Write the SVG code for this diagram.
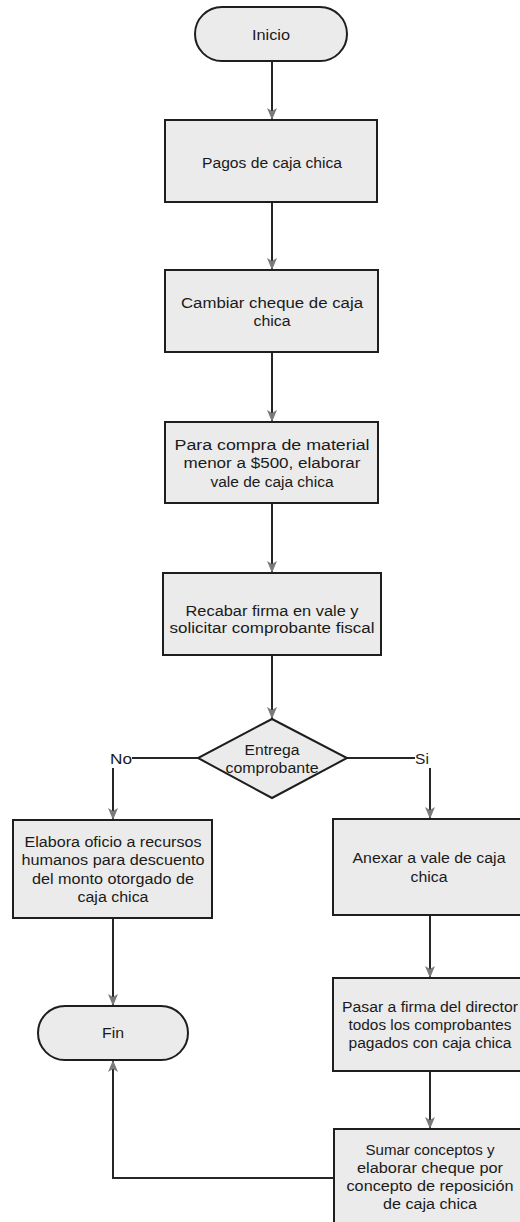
<svg xmlns="http://www.w3.org/2000/svg" width="520" height="1222" viewBox="0 0 520 1222">
<style>
.box{fill:#ebebeb;stroke:#1e1e1e;stroke-width:2}
.t{font-family:"Liberation Sans",Arial,sans-serif;font-size:15.5px;fill:#1a1a1a;text-anchor:middle}
.c{fill:none;stroke:#262626;stroke-width:2}
</style>
<defs>
<marker id="ah" viewBox="0 0 12 10" refX="12" refY="5" markerWidth="12" markerHeight="10" markerUnits="userSpaceOnUse" orient="auto">
<path d="M0,0 L12,5 L0,10 L3,5 Z" fill="#7a7a7a"/>
</marker>
</defs>
<rect width="520" height="1222" fill="#ffffff"/>
<g id="connectors">
<line class="c" x1="272" y1="61" x2="272" y2="120" marker-end="url(#ah)"/>
<line class="c" x1="272" y1="202" x2="272" y2="270" marker-end="url(#ah)"/>
<line class="c" x1="272" y1="352" x2="272" y2="422" marker-end="url(#ah)"/>
<line class="c" x1="272" y1="503" x2="272" y2="573" marker-end="url(#ah)"/>
<line class="c" x1="272" y1="655" x2="272" y2="719" marker-end="url(#ah)"/>
<line class="c" x1="198" y1="758" x2="132" y2="758"/>
<line class="c" x1="113" y1="768" x2="113" y2="820" marker-end="url(#ah)"/>
<line class="c" x1="347" y1="758" x2="415" y2="758"/>
<line class="c" x1="430" y1="768" x2="430" y2="819" marker-end="url(#ah)"/>
<line class="c" x1="113" y1="918" x2="113" y2="1006" marker-end="url(#ah)"/>
<line class="c" x1="430" y1="915" x2="430" y2="978" marker-end="url(#ah)"/>
<line class="c" x1="430" y1="1071" x2="430" y2="1129" marker-end="url(#ah)"/>
<polyline class="c" points="334,1178 113,1178 113,1060" marker-end="url(#ah)"/>
<text class="t" x="121" y="764" textLength="22" lengthAdjust="spacingAndGlyphs">No</text>
<text class="t" x="422" y="764">Si</text>
</g>
<g id="inicio">
<rect class="box" x="195" y="7" width="152" height="54" rx="27"/>
<text class="t" x="271" y="40" textLength="38" lengthAdjust="spacingAndGlyphs">Inicio</text>
</g>
<g id="pagos">
<rect class="box" x="165" y="120" width="212" height="82"/>
<text class="t" x="272" y="168" textLength="140" lengthAdjust="spacingAndGlyphs">Pagos de caja chica</text>
</g>
<g id="cambiar">
<rect class="box" x="165" y="270" width="213" height="82"/>
<text class="t" x="272" y="308" textLength="182" lengthAdjust="spacingAndGlyphs">Cambiar cheque de caja</text>
<text class="t" x="272" y="326" textLength="37" lengthAdjust="spacingAndGlyphs">chica</text>
</g>
<g id="para">
<rect class="box" x="165" y="422" width="213" height="81"/>
<text class="t" x="272" y="450" textLength="195" lengthAdjust="spacingAndGlyphs">Para compra de material</text>
<text class="t" x="272" y="468" textLength="177" lengthAdjust="spacingAndGlyphs">menor a $500, elaborar</text>
<text class="t" x="272" y="487" textLength="123" lengthAdjust="spacingAndGlyphs">vale de caja chica</text>
</g>
<g id="recabar">
<rect class="box" x="163" y="573" width="218" height="82"/>
<text class="t" x="272" y="616" textLength="173" lengthAdjust="spacingAndGlyphs">Recabar firma en vale y</text>
<text class="t" x="272" y="633" textLength="205" lengthAdjust="spacingAndGlyphs">solicitar comprobante fiscal</text>
</g>
<g id="decision">
<polygon class="box" points="272,719 347,758 272,798 198,758"/>
<text class="t" x="272" y="755" textLength="55" lengthAdjust="spacingAndGlyphs">Entrega</text>
<text class="t" x="272" y="773" textLength="93" lengthAdjust="spacingAndGlyphs">comprobante</text>
</g>
<g id="elabora">
<rect class="box" x="13" y="820" width="199" height="98"/>
<text class="t" x="113" y="847" textLength="177" lengthAdjust="spacingAndGlyphs">Elabora oficio a recursos</text>
<text class="t" x="113" y="865" textLength="183" lengthAdjust="spacingAndGlyphs">humanos para descuento</text>
<text class="t" x="113" y="884" textLength="162" lengthAdjust="spacingAndGlyphs">del monto otorgado de</text>
<text class="t" x="113" y="902" textLength="71" lengthAdjust="spacingAndGlyphs">caja chica</text>
</g>
<g id="anexar">
<rect class="box" x="333" y="819" width="194" height="96"/>
<text class="t" x="429" y="863" textLength="153" lengthAdjust="spacingAndGlyphs">Anexar a vale de caja</text>
<text class="t" x="429" y="882" textLength="37" lengthAdjust="spacingAndGlyphs">chica</text>
</g>
<g id="pasar">
<rect class="box" x="333" y="978" width="194" height="93"/>
<text class="t" x="430" y="1012" textLength="176" lengthAdjust="spacingAndGlyphs">Pasar a firma del director</text>
<text class="t" x="430" y="1030" textLength="163" lengthAdjust="spacingAndGlyphs">todos los comprobantes</text>
<text class="t" x="430" y="1048" textLength="163" lengthAdjust="spacingAndGlyphs">pagados con caja chica</text>
</g>
<g id="sumar">
<rect class="box" x="334" y="1129" width="193" height="110"/>
<text class="t" x="430" y="1155" textLength="129" lengthAdjust="spacingAndGlyphs">Sumar conceptos y</text>
<text class="t" x="430" y="1173" textLength="146" lengthAdjust="spacingAndGlyphs">elaborar cheque por</text>
<text class="t" x="430" y="1191" textLength="167" lengthAdjust="spacingAndGlyphs">concepto de reposición</text>
<text class="t" x="430" y="1209" textLength="94" lengthAdjust="spacingAndGlyphs">de caja chica</text>
</g>
<g id="fin">
<rect class="box" x="38" y="1006" width="150" height="54" rx="27"/>
<text class="t" x="113" y="1038" textLength="22" lengthAdjust="spacingAndGlyphs">Fin</text>
</g>
</svg>
